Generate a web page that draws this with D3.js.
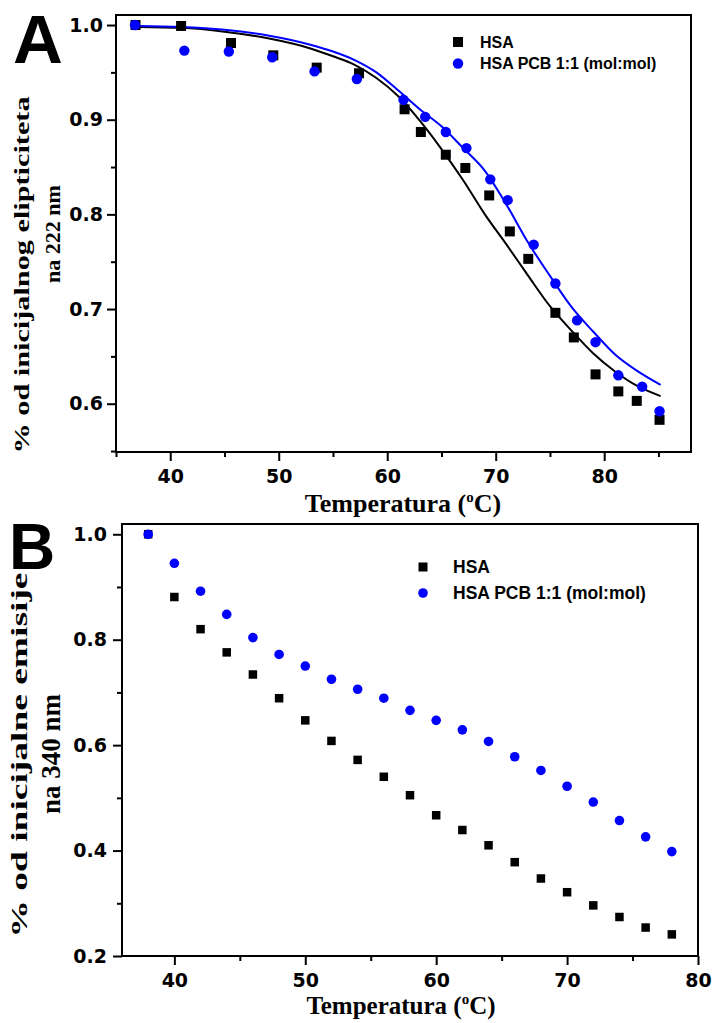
<!DOCTYPE html>
<html>
<head>
<meta charset="utf-8">
<script src="https://cdn.jsdelivr.net/npm/d3@7"></script>
<style>
  body { margin: 0; background: #fff; }
  svg { display: block; }
  .tick text { font-family: "DejaVu Sans", sans-serif; font-weight: bold; font-size: 19px; fill: #000; }
  .serif { font-family: "Liberation Serif", "Times New Roman", serif; font-weight: bold; fill: #000; }
  .sans { font-family: "Liberation Sans", Arial, sans-serif; font-weight: bold; fill: #000; }
</style>
</head>
<body>
<svg id="chart" width="713" height="1023"></svg>
<script>
// panel A - CD ellipticity
var tempA_hsa = [36.8, 41.0, 45.6, 49.5, 53.5, 57.4, 61.6, 63.1, 65.4, 67.2, 69.4, 71.3, 73.0, 75.5, 77.2, 79.2, 81.3, 83.0, 85.1];
var valA_hsa = [1.0, 0.999, 0.981, 0.968, 0.955, 0.949, 0.911, 0.887, 0.863, 0.849, 0.820, 0.782, 0.753, 0.696, 0.670, 0.631, 0.613, 0.603, 0.583];
var tempA_pcb = [36.75, 41.3, 45.4, 49.4, 53.3, 57.2, 61.5, 63.5, 65.4, 67.3, 69.5, 71.1, 73.5, 75.5, 77.5, 79.2, 81.3, 83.5, 85.1];
var valA_pcb = [1.0, 0.973, 0.972, 0.966, 0.951, 0.943, 0.921, 0.903, 0.887, 0.870, 0.837, 0.815, 0.768, 0.727, 0.688, 0.665, 0.630, 0.618, 0.592];
// fitted curves
var fitTemp = [37, 41, 45, 49, 53, 55, 57, 59, 61, 63, 65, 67, 69, 71, 73, 75, 77, 79, 81, 83, 85.2];
var fit_hsa = [0.998, 0.997, 0.993, 0.986, 0.975, 0.967, 0.958, 0.944, 0.925, 0.899, 0.869, 0.836, 0.800, 0.768, 0.735, 0.703, 0.677, 0.653, 0.634, 0.619, 0.608];
var fit_pcb = [0.999, 0.998, 0.995, 0.989, 0.979, 0.972, 0.963, 0.950, 0.931, 0.911, 0.893, 0.870, 0.846, 0.810, 0.770, 0.735, 0.702, 0.676, 0.652, 0.635, 0.620];

// panel B - fluorescence emission
var tempB = [38, 40, 42, 44, 46, 48, 50, 52, 54, 56, 58, 60, 62, 64, 66, 68, 70, 72, 74, 76, 78];
var valB_hsa = [1.0, 0.881, 0.820, 0.776, 0.734, 0.689, 0.647, 0.608, 0.572, 0.540, 0.505, 0.467, 0.439, 0.410, 0.378, 0.347, 0.321, 0.296, 0.274, 0.254, 0.241];
var valB_pcb = [1.0, 0.945, 0.892, 0.848, 0.804, 0.772, 0.750, 0.725, 0.706, 0.689, 0.666, 0.647, 0.629, 0.607, 0.578, 0.552, 0.522, 0.492, 0.457, 0.426, 0.398];

var legendLabels = ["HSA", "HSA PCB 1:1 (mol:mol)"];
var BLUE = "#0000ff";

var svg = d3.select("#chart");

function zip(xs, ys) { return xs.map(function (x, i) { return [x, ys[i]]; }); }

function panel(o) {
  var g = svg.append("g");
  var x = d3.scaleLinear().domain(o.xDomain).range([o.left, o.right]);
  var y = d3.scaleLinear().domain(o.yDomain).range([o.bottom, o.top]);

  // minor ticks
  g.append("g").attr("transform", "translate(0," + o.bottom + ")")
    .call(d3.axisBottom(x).tickValues(o.xMinor).tickSize(5).tickFormat(""))
    .call(function (a) { a.select(".domain").remove(); a.selectAll("line").attr("stroke-width", 2); });
  g.append("g").attr("transform", "translate(" + o.left + ",0)")
    .call(d3.axisLeft(y).tickValues(o.yMinor).tickSize(5).tickFormat(""))
    .call(function (a) { a.select(".domain").remove(); a.selectAll("line").attr("stroke-width", 2); });

  // major ticks
  g.append("g").attr("transform", "translate(0," + o.bottom + ")")
    .call(d3.axisBottom(x).tickValues(o.xMajor).tickSize(9).tickPadding(o.xPad).tickFormat(d3.format("d")))
    .call(function (a) { a.select(".domain").remove(); a.selectAll("line").attr("stroke-width", 2); });
  g.append("g").attr("transform", "translate(" + o.left + ",0)")
    .call(d3.axisLeft(y).tickValues(o.yMajor).tickSize(9).tickPadding(o.yPad).tickFormat(d3.format(".1f")))
    .call(function (a) { a.select(".domain").remove(); a.selectAll("line").attr("stroke-width", 2); });

  g.append("rect").attr("x", o.left).attr("y", o.top)
    .attr("width", o.right - o.left).attr("height", o.bottom - o.top)
    .attr("fill", "none").attr("stroke", "#000").attr("stroke-width", 2);

  return { g: g, x: x, y: y };
}

function squares(p, pts, s) {
  p.g.append("g").selectAll("rect").data(pts).join("rect")
    .attr("x", function (d) { return p.x(d[0]) - s / 2; })
    .attr("y", function (d) { return p.y(d[1]) - s / 2; })
    .attr("width", s).attr("height", s).attr("fill", "#000");
}
function dots(p, pts, r) {
  p.g.append("g").selectAll("circle").data(pts).join("circle")
    .attr("cx", function (d) { return p.x(d[0]); })
    .attr("cy", function (d) { return p.y(d[1]); })
    .attr("r", r).attr("fill", BLUE);
}

function xTitle(cx, by, fs) {
  var t = svg.append("text").attr("class", "serif").attr("x", cx).attr("y", by)
    .attr("text-anchor", "middle").style("font-size", fs + "px");
  t.append("tspan").text("Temperatura (");
  t.append("tspan").text("o").attr("dy", -10).style("font-size", "15px");
  t.append("tspan").text("C)").attr("dy", 10);
}

function yTitle(x1, c1, len1, fs1, text1, x2, c2, fs2, text2) {
  svg.append("text").attr("class", "serif")
    .attr("transform", "translate(" + x1 + "," + c1 + ") rotate(-90)")
    .attr("text-anchor", "middle").style("font-size", fs1 + "px")
    .attr("textLength", len1).attr("lengthAdjust", "spacingAndGlyphs")
    .text(text1);
  svg.append("text").attr("class", "serif")
    .attr("transform", "translate(" + x2 + "," + c2 + ") rotate(-90)")
    .attr("text-anchor", "middle").style("font-size", fs2 + "px")
    .text(text2);
}

function legend(lx, tx, y1, y2, fs, sq, r) {
  svg.append("rect").attr("x", lx - sq / 2).attr("y", y1 - sq / 2).attr("width", sq).attr("height", sq).attr("fill", "#000");
  svg.append("circle").attr("cx", lx).attr("cy", y2).attr("r", r).attr("fill", BLUE);
  svg.append("text").attr("class", "sans").attr("x", tx).attr("y", y1 + fs * 0.36)
    .style("font-size", fs + "px").text(legendLabels[0]);
  svg.append("text").attr("class", "sans").attr("x", tx).attr("y", y2 + fs * 0.36)
    .style("font-size", fs + "px").text(legendLabels[1]);
}

// ---------- A ----------
var pA = panel({
  left: 116, right: 691, top: 15, bottom: 452,
  xDomain: [35, 88], yDomain: [0.549, 1.0106],
  xMajor: [40, 50, 60, 70, 80], xMinor: [35, 45, 55, 65, 75, 85],
  yMajor: [0.6, 0.7, 0.8, 0.9, 1.0], yMinor: [0.55, 0.65, 0.75, 0.85, 0.95],
  xPad: 9, yPad: 4
});
var lineA = d3.line().x(function (d) { return pA.x(d[0]); }).y(function (d) { return pA.y(d[1]); }).curve(d3.curveMonotoneX);
pA.g.append("path").attr("d", lineA(zip(fitTemp, fit_hsa))).attr("fill", "none").attr("stroke", "#000").attr("stroke-width", 2);
pA.g.append("path").attr("d", lineA(zip(fitTemp, fit_pcb))).attr("fill", "none").attr("stroke", BLUE).attr("stroke-width", 2);
squares(pA, zip(tempA_hsa, valA_hsa), 10);
dots(pA, zip(tempA_pcb, valA_pcb), 5.2);
legend(458, 480, 42, 63.5, 16, 10, 5.2);
xTitle(403, 512, 26);
yTitle(29, 275, 357, 20, "% od inicijalnog elipticiteta", 60, 234, 22, "na 222 nm");
svg.append("text").attr("class", "sans").attr("x", 13).attr("y", 63).style("font-size", "69px").text("A");

// ---------- B ----------
var pB = panel({
  left: 122, right: 698, top: 524, bottom: 956,
  xDomain: [36, 80], yDomain: [0.2, 1.0195],
  xMajor: [40, 50, 60, 70, 80], xMinor: [45, 55, 65, 75],
  yMajor: [0.2, 0.4, 0.6, 0.8, 1.0], yMinor: [0.3, 0.5, 0.7, 0.9],
  xPad: 9, yPad: 6
});
squares(pB, zip(tempB, valB_hsa), 8.5);
dots(pB, zip(tempB, valB_pcb), 4.8);
legend(423, 453, 567, 593, 17.5, 9, 4.8);
xTitle(401, 1014, 25);
yTitle(27, 755, 365, 24, "% od inicijalne emisije", 60, 754, 27, "na 340 nm");
svg.append("text").attr("class", "sans").attr("x", 9).attr("y", 569).style("font-size", "64px").text("B");
</script>
</body>
</html>
